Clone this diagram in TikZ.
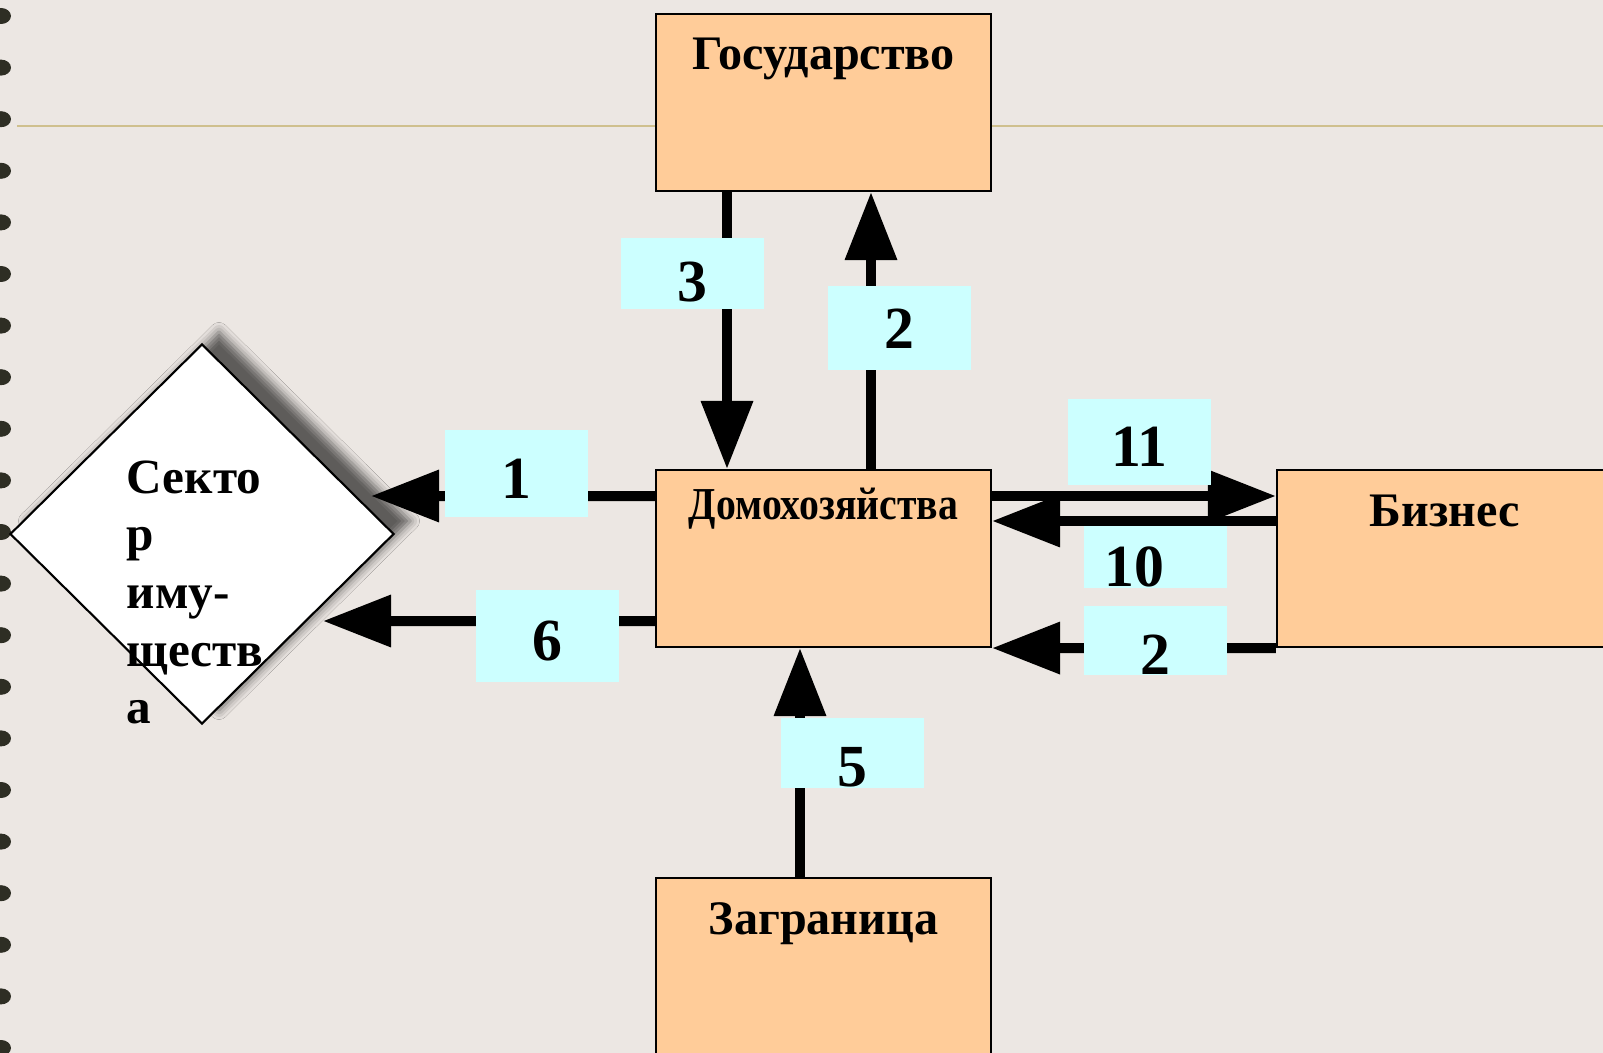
\documentclass[tikz,border=0pt]{standalone}
\usepackage{xcolor}
\usepackage{fontspec}
\setmainfont{Liberation Serif}
\newfontfamily\narrowfont[FakeStretch=0.87]{Liberation Serif}
\usetikzlibrary{arrows.meta,shapes.geometric,shadows.blur}
\definecolor{slidebg}{HTML}{ECE7E3}
\definecolor{boxfill}{HTML}{FFCC99}
\definecolor{numfill}{HTML}{CCFFFF}
\definecolor{rulecol}{HTML}{CFC08E}
\definecolor{ringcol}{HTML}{2E2E24}

\begin{document}
\begin{tikzpicture}[x=0.1mm, y=-0.1mm,
  unit/.style={draw, line width=0.6pt, fill=boxfill, inner sep=0pt,
    minimum width=33.5mm, minimum height=17.7mm,
    font=\fontsize{13.7}{17}\selectfont\bfseries,
    text height=5.6mm, text depth=12.1mm},
  sector/.style={draw, line width=0.6pt, fill=white, shape=diamond, inner sep=0pt,
    minimum width=38.4mm, minimum height=38mm,
    blur shadow={shadow xshift=1.7mm, shadow yshift=1.3mm, shadow blur radius=0.9mm, shadow opacity=60}},
  num/.style={fill=numfill, inner sep=0pt, minimum width=14.3mm,
    font=\fontsize{17}{20}\selectfont\bfseries, text depth=0pt},
  flow/.style={line width=1mm, -{Triangle[length=6.8mm, width=5mm]}}]

\useasboundingbox (0,0) rectangle (1603,1053);
\clip (0,0) rectangle (1603,1053);
\fill[slidebg] (0,0) rectangle (1603,1053);
\foreach \k in {0,...,20}
  \fill[ringcol] (1, 16+51.6*\k) ellipse (10 and 8);
\draw[rulecol, line width=0.2mm] (17,126) -- (1603,126);

\node[unit] (gos) at (823.5,102.5) {Государство};
\node[unit, font=\narrowfont\fontsize{13}{16}\selectfont\bfseries, text height=4.9mm, text depth=12.8mm] (dom) at (823.5,558.5) {Домохозяйства};
\node[unit] (biz) at (1444.5,558.5) {Бизнес};
\node[unit] (zag) at (823.5,966.5) {Заграница};
\node[sector] (sect) at (202,534) {};
\node[anchor=north west, inner sep=0pt, align=left, font=\fontsize{14}{16.4}\selectfont\bfseries] (secttext) at (126,460) {Секто\\р\\иму-\\ществ\\а};

\coordinate (in1) at (371,496);
\coordinate (in6) at (323,621);

\draw[flow] ([xshift=-9.65mm]gos.south) -- ([xshift=-9.65mm]dom.north);
\draw[flow] ([xshift=4.75mm]dom.north) -- ([xshift=4.75mm]gos.south);
\draw[flow] ([xshift=-2.35mm]zag.north) -- ([xshift=-2.35mm]dom.south);
\draw[flow] ([yshift=6.25mm]dom.west) -- (in1);
\draw[flow] ([yshift=-6.25mm]dom.west) -- (in6);
\draw[flow] ([yshift=6.25mm]dom.east) -- ([yshift=6.25mm]biz.west);
\draw[flow] ([yshift=3.75mm]biz.west) -- ([yshift=3.75mm]dom.east);
\draw[flow] (biz.south west) -- (dom.south east);

\node[num, minimum height=7.1mm, text height=5.55mm] (n3) at (692,273.5) {3};
\node[num, minimum height=8.4mm, text height=4.2mm] (n2top) at (899.5,328) {2};
\node[num, minimum height=8.7mm, text height=4.95mm] (n1) at (516,473.5) {1};
\node[num, minimum height=8.6mm, text height=4.85mm] (n11) at (1139.5,442) {11};
\node[num, minimum height=6.2mm, text height=5.85mm] (n10) at (1155.5,557) {10\hspace*{4.3mm}};
\node[num, minimum height=6.9mm, text height=6.75mm] (n2low) at (1155.5,640.5) {2};
\node[num, minimum height=9.2mm, text height=4.85mm] (n6) at (547.5,636) {6};
\node[num, minimum height=7mm, text height=6.65mm] (n5) at (852,753) {5};
\end{tikzpicture}
\end{document}
